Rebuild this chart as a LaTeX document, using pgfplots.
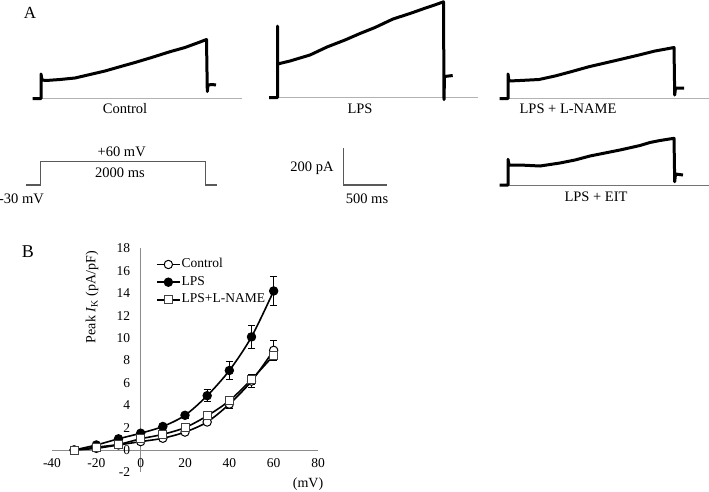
\documentclass[border=0pt]{standalone}
\usepackage{pgfplots}
\pgfplotsset{compat=1.18}
\usepackage{fontspec}
\setmainfont{Liberation Serif}
\newcommand{\fs}[1]{\fontsize{#1}{#1}\selectfont}
\begin{document}
\begin{tikzpicture}
% ---------- base canvas in pixel coordinates ----------
\begin{axis}[at={(0,0)}, anchor=south west, scale only axis, width=709pt, height=491pt,
  xmin=0, xmax=709, ymin=0, ymax=491, y dir=reverse, hide axis, clip=false]
% baselines
\addplot[color=black!30, line width=1.2pt] coordinates {(40,98.5) (242,98.5)};
\addplot[color=black!30, line width=1.2pt] coordinates {(278,97.5) (478,97.5)};
\addplot[color=black!30, line width=1.2pt] coordinates {(509,98.5) (709,98.5)};
\addplot[color=black!55, line width=0.9pt] coordinates {(509,185) (709,185)};
% traces
\addplot[black, line width=3pt, line join=round] coordinates {
 (32.7,98.5) (41,98.5) (41,74) (42,80) (46,80.5) (60,79.5) (75,78) (90,74.5) (105,71) (120,66.7)
 (135,62.5) (150,58) (170,51.7) (185,47.5) (200,42) (206.5,39.5) (207.3,91.5) (208,85) (212,84.5) (216,85)};
\addplot[black, line width=3pt, line join=round] coordinates {
 (269,97.5) (277.5,97.5) (277.5,26) (277.5,64) (290,61) (310,55) (327,47) (345,40) (360,33.5)
 (375,27.5) (393,19) (410,13.5) (427,7.5) (436,4.5) (443.5,1.8) (444,99.5) (444.5,76.5) (452.7,75.5)};
\addplot[black, line width=3pt, line join=round] coordinates {
 (499.7,98.5) (508,98.5) (508,74) (509,81) (520,80.5) (539,79.5) (555,76) (570,72) (589,66.7)
 (605,63) (620,59.5) (639,55) (655,51) (666,49) (674,47.5) (674.7,95) (675.5,88) (684,88)};
\addplot[black, line width=3pt, line join=round] coordinates {
 (499.7,185) (508,185) (508,159.3) (509,165) (520,165) (540,166) (560,163) (575,160) (590,156)
 (605,153) (620,150) (640,145.5) (650,142.5) (660,140.5) (674,138.3) (674.7,181.7) (675.5,174) (683,175)};
% voltage protocol and scale bar
\addplot[color=black!65, line width=1.5pt] coordinates {(26,185) (40.7,185) (40.7,161.7) (205.7,161.7) (205.7,185) (217.3,185)};
\addplot[color=black!65, line width=1.5pt] coordinates {(343.5,148.3) (343.5,185) (387.3,185)};
% texts
\node[font=\fs{17}] at (axis cs:30,13) {A};
\node[font=\fs{14.5}] at (axis cs:125,109) {Control};
\node[font=\fs{14.5}] at (axis cs:360,109) {LPS};
\node[font=\fs{14.5}] at (axis cs:568,109) {LPS + L-NAME};
\node[font=\fs{14.5}] at (axis cs:121.7,151.5) {+60 mV};
\node[font=\fs{14.5}] at (axis cs:120,173) {2000 ms};
\node[font=\fs{14.5}] at (axis cs:21.5,199) {-30 mV};
\node[font=\fs{14.5}] at (axis cs:312,168) {200 pA};
\node[font=\fs{14.5}] at (axis cs:367,199) {500 ms};
\node[font=\fs{14.5}] at (axis cs:596,197) {LPS + EIT};
\node[font=\fs{18}] at (axis cs:28,252) {B};
\node[font=\fs{14}, rotate=90] at (axis cs:92,297) {Peak \textit{I}\textsubscript{K} (pA/pF)};
\node[font=\fs{14}] at (axis cs:308,484) {(mV)};
\end{axis}
% ---------- panel B ----------
\begin{axis}[at={(52pt,18.6pt)}, anchor=south west, scale only axis, width=266pt, height=224pt,
  xmin=-40, xmax=80, ymin=-2, ymax=18, axis lines=middle,
  axis line style={-, color=black!45, line width=0.8pt},
  xtick={-40,-20,...,80}, ytick={-2,0,...,18}, major tick length=0pt,
  hide obscured x ticks=false, hide obscured y ticks=false,
  tick label style={font=\fs{13.5}}, /pgf/number format/assume math mode=true,
  xticklabel style={anchor=north, yshift=-5pt},
  yticklabel style={anchor=east, xshift=-7pt},
  clip=false,
  legend style={at={(axis cs:5.5,17.55)}, anchor=north west, draw=none, fill=none, font=\fs{13.5},
    nodes={inner xsep=1pt, inner ysep=2.85pt, text height=9pt, text depth=3pt}, row sep=0pt},
  legend cell align=left,
  legend image code/.code={\draw[mark repeat=2,mark phase=2,#1] plot coordinates {(0pt,0pt) (11.5pt,0pt) (23pt,0pt)};},
  every axis plot/.append style={black, line width=1.6pt},
  ]
\addplot[smooth, mark=*, mark size=4.2pt, mark options={fill=white, line width=1pt},
  error bars/.cd, y dir=both, y explicit, error bar style={line width=1pt, black},
  error mark options={rotate=90, mark size=3.5pt, line width=1pt, black}]
  coordinates {(-30,0) +- (0,0) (-20,0.15) +- (0,0.05) (-10,0.45) +- (0,0.08) (0,0.75) +- (0,0.1)
  (10,1.05) +- (0,0.12) (20,1.6) +- (0,0.15) (30,2.5) +- (0,0.25) (40,4.1) +- (0,0.35)
  (50,6.15) +- (0,0.55) (60,8.9) +- (0,0.85)};
\addlegendentry{Control}
\addplot[smooth, mark=*, mark size=4.2pt, mark options={fill=black, line width=1pt},
  error bars/.cd, y dir=both, y explicit, error bar style={line width=1pt, black},
  error mark options={rotate=90, mark size=3.5pt, line width=1pt, black}]
  coordinates {(-30,0) +- (0,0) (-20,0.45) +- (0,0.08) (-10,1.0) +- (0,0.12) (0,1.5) +- (0,0.15)
  (10,2.1) +- (0,0.2) (20,3.1) +- (0,0.25) (30,4.85) +- (0,0.55) (40,7.1) +- (0,0.8)
  (50,10.1) +- (0,1.05) (60,14.2) +- (0,1.3)};
\addlegendentry{LPS}
\addplot[smooth, mark=square*, mark size=4pt, mark options={fill=white, line width=1pt, draw=black!75},
  error bars/.cd, y dir=both, y explicit, error bar style={line width=1pt, black},
  error mark options={rotate=90, mark size=3.5pt, line width=1pt, black}]
  coordinates {(-30,0) +- (0,0) (-20,0.25) +- (0,0.05) (-10,0.5) +- (0,0.08) (0,1.0) +- (0,0.1)
  (10,1.4) +- (0,0.12) (20,2.0) +- (0,0.15) (30,3.05) +- (0,0.25) (40,4.4) +- (0,0.3)
  (50,6.3) +- (0,0.45) (60,8.45) +- (0,0.45)};
\addlegendentry{LPS+L-NAME}
\end{axis}
\pgfresetboundingbox
\path[use as bounding box] (0,0) rectangle (709pt,491pt);
\end{tikzpicture}
\end{document}
